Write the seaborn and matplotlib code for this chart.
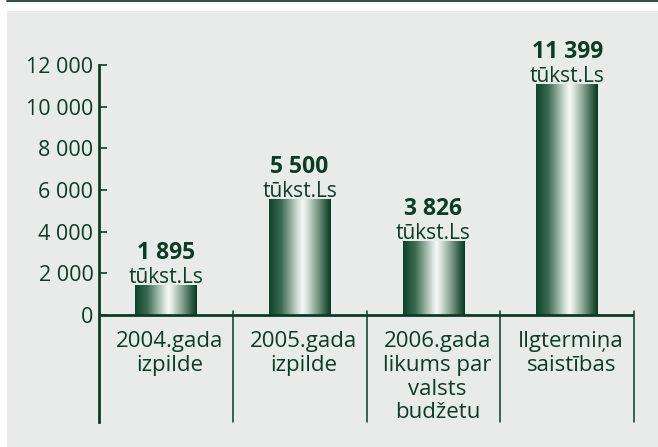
import numpy as np
import pandas as pd
import matplotlib
matplotlib.use('Agg')
import matplotlib.pyplot as plt
import seaborn as sns
from matplotlib.colors import LinearSegmentedColormap
from matplotlib.patches import Rectangle
from matplotlib.lines import Line2D

# data
categories = ['2004.gada\nizpilde', '2005.gada\nizpilde',
              '2006.gada\nlikums par\nvalsts\nbudžetu', 'Ilgtermiņa\nsaistības']
bar_heights = [1440, 5570, 3550, 11090]
value_labels = ['1 895', '5 500', '3 826', '11 399']
unit_label = 'tūkst.Ls'
yticks = [0, 2000, 4000, 6000, 8000, 10000, 12000]
ytick_labels = ['0', '2 000', '4 000', '6 000', '8 000', '10 000', '12 000']

green = '#0b3d25'
panel = '#e9ebea'

sns.set_theme(style='white')
plt.rcParams['font.family'] = ['Open Sans', 'DejaVu Sans']

fig = plt.figure(figsize=(6.58, 4.47), dpi=100)
fig.patch.set_facecolor('white')
# grey panel and top rule
fig.patches.append(Rectangle((7 / 658, 0), 1, 436 / 447, transform=fig.transFigure,
                             facecolor=panel, edgecolor='none', zorder=-10))
fig.lines.append(Line2D([7 / 658, 1], [446 / 447, 446 / 447], transform=fig.transFigure,
                        color='#1d3f35', linewidth=1.3))

ax = fig.add_axes([99 / 658, 25 / 447, (634 - 99) / 658, (422 - 65) / 447])
ax.set_facecolor('none')

df = pd.DataFrame({'cat': categories, 'value': bar_heights})
sns.barplot(data=df, x='cat', y='value', ax=ax, width=0.46, color=green,
            saturation=1, linewidth=0)

ymin = -5140
ax.set_ylim(ymin, 12000)
ax.set_xlim(-0.5, 3.5)

# gradient fill for every bar
cmap = LinearSegmentedColormap.from_list('shine', [
    (0.0, '#0d4429'), (0.2, '#3d6b53'), (0.45, '#c9d8ce'), (0.54, '#f7faf7'),
    (0.62, '#d5e0d8'), (0.78, '#7e9c89'), (0.92, '#2f5a44'), (1.0, '#063a20')])
grad = np.linspace(0, 1, 256).reshape(1, -1)
for p in ax.patches:
    x0, y0 = p.get_x(), p.get_y()
    w, h = p.get_width(), p.get_height()
    p.set_facecolor('none')
    im = ax.imshow(grad, cmap=cmap, aspect='auto', extent=(x0, x0 + w, y0, y0 + h),
                   zorder=2, interpolation='bilinear')
    im.set_clip_path(p)

ax.set_xlim(-0.5, 3.5)
ax.set_ylim(ymin, 12000)

# value labels above bars
for i, (h, lab) in enumerate(zip(bar_heights, value_labels)):
    ax.annotate(unit_label, (i, h), xytext=(0, 1.2), textcoords='offset points',
                ha='center', va='baseline', fontsize=15, color=green)
    ax.annotate(lab, (i, h), xytext=(0, 19), textcoords='offset points',
                ha='center', va='baseline', fontsize=16.5, fontweight='bold', color=green)

# axes styling
for s in ['top', 'right', 'bottom']:
    ax.spines[s].set_visible(False)
ax.spines['left'].set_color(green)
ax.spines['left'].set_linewidth(2)
ax.axhline(0, color=green, linewidth=2, zorder=3)
for xs in [0.5, 1.5, 2.5, 3.5]:
    ax.plot([xs, xs], [ymin, 200], color=green, linewidth=1.1, clip_on=False)

ax.set_yticks(yticks)
ax.set_yticklabels(ytick_labels)
ax.tick_params(axis='y', direction='in', length=6, width=1.2, color=green,
               labelsize=15.5, labelcolor=green, pad=4, left=True)
ax.set_xticks([])
ax.set_xlabel('')
ax.set_ylabel('')

for i, c in enumerate(categories):
    ax.text(i + 0.03, -760, c, ha='center', va='top', fontsize=16, color=green,
            linespacing=1.18)

fig.savefig('out.png', dpi=100, facecolor=fig.get_facecolor())
